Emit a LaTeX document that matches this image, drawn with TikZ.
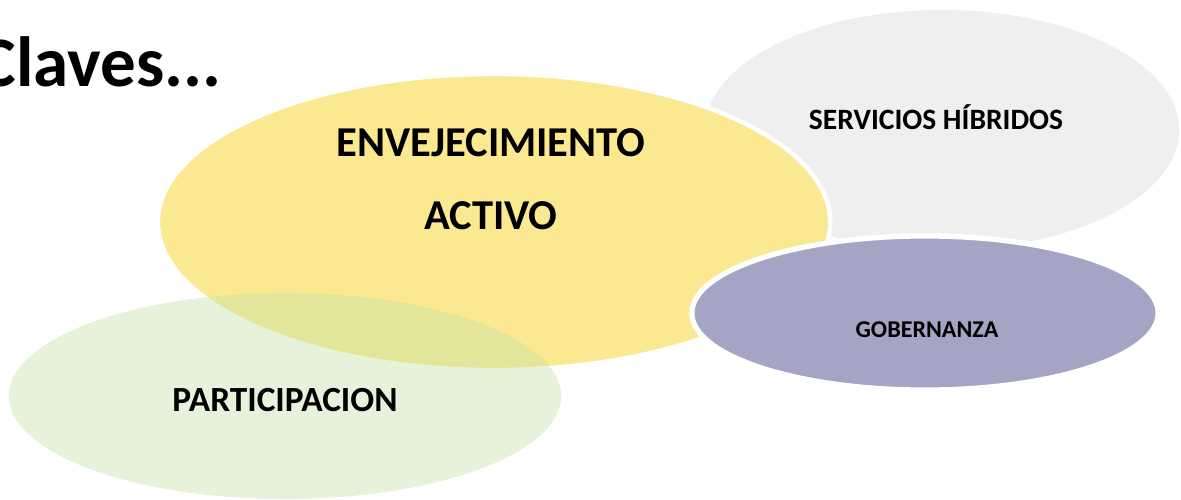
\documentclass[tikz,border=0pt]{standalone}
\usepackage{fontspec}
\setmainfont{Carlito}
\usetikzlibrary{shapes.geometric}
\usetikzlibrary{positioning}

\definecolor{amarillo}{RGB}{251,233,146}
\definecolor{gris}{RGB}{239,239,239}
\definecolor{lila}{RGB}{166,164,196}
\definecolor{verde}{RGB}{192,226,162}

\begin{document}
\begin{tikzpicture}[x=0.01cm, y=-0.01cm]
      \tikzset{elipse/.style={ellipse, inner sep=0pt, draw=white, line width=1.3pt}};
      \tikzset{texto/.style={font=\bfseries, text=black, inner sep=0pt, align=center}};
      \useasboundingbox (0,0) rectangle (1181,500);

      % titulo
      \node[texto, font=\fontsize{20.2}{24}\selectfont\bfseries, anchor=base west](titulo) at (-22,87){Claves...};

      % elipses
      \node[elipse, draw=none, fill=gris, minimum width=4.74cm, minimum height=2.4cm](servicios) at (942,130){};
      \node[elipse, fill=amarillo, minimum width=6.72cm, minimum height=2.96cm](envejecimiento) at (494,222){};
      \node[elipse, draw=none, fill=verde, fill opacity=0.4, minimum width=5.52cm, minimum height=2.06cm](participacion) at (285,396){};
      \node[elipse, fill=lila, line width=1.5pt, minimum width=4.66cm, minimum height=1.54cm](gobernanza) at (925,313){};

      % textos
      \node[texto, font=\fontsize{12.1}{20.8}\selectfont\bfseries](tEnv) at (491,179){ENVEJECIMIENTO\\ACTIVO};
      \node[texto, font=\fontsize{8.4}{10}\selectfont\bfseries, anchor=base](tServ) at (936,129){SERVICIOS HÍBRIDOS};
      \node[texto, font=\fontsize{6.85}{8}\selectfont\bfseries, anchor=base](tGob) at (927,337){GOBERNANZA};
      \node[texto, font=\fontsize{10.05}{12}\selectfont\bfseries, anchor=base](tPart) at (285,411){PARTICIPACION};
    \end{tikzpicture}
\end{document}
